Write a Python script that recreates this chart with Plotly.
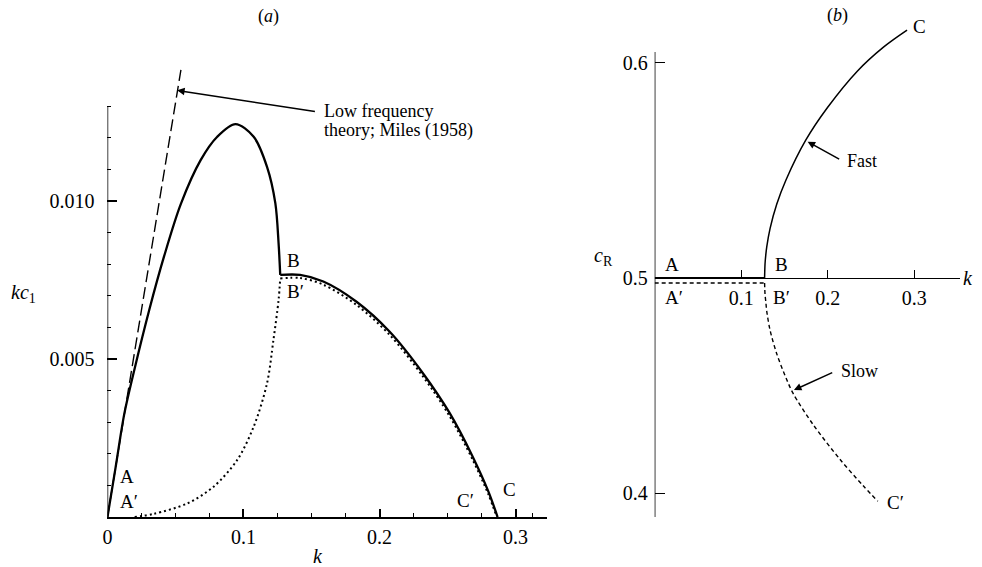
import plotly.graph_objects as go

# ---------------- data: panel (a) ----------------
# solid curve, rising branch A -> peak -> B
solid_rise_k = [0, 0.006, 0.0124, 0.02, 0.0307, 0.0417, 0.0539, 0.0685, 0.0807, 0.0941,
                0.1075, 0.1173, 0.1234, 0.1258, 0.127]
solid_rise_y = [0, 0.00158, 0.00327, 0.0047, 0.00655, 0.00826, 0.0099, 0.01129, 0.01203, 0.01243,
                0.01203, 0.01108, 0.00993, 0.00866, 0.00766]
# solid curve, falling branch B -> C
solid_fall_k = [0.127, 0.1416, 0.1587, 0.1831, 0.2075, 0.2319, 0.2514, 0.2685, 0.28, 0.2868]
solid_fall_y = [0.00766, 0.00766, 0.00745, 0.00681, 0.00586, 0.00455, 0.0033, 0.00191, 0.00081, 0]

# dotted curve, rising branch A' -> B'
dotted_rise_k = [0.02, 0.034, 0.0587, 0.078, 0.0953, 0.1075, 0.1173, 0.122, 0.1258, 0.127]
dotted_rise_y = [0, 0.0001, 0.00043, 0.00096, 0.0018, 0.00286, 0.00423, 0.0056, 0.00687, 0.00755]
# dotted curve, falling branch B' -> C'
dotted_fall_k = [0.127, 0.1416, 0.1587, 0.1831, 0.2075, 0.2319, 0.2514, 0.2685, 0.28, 0.2862]
dotted_fall_y = [0.00755, 0.00756, 0.00735, 0.00671, 0.00576, 0.00445, 0.0032, 0.00181, 0.00072, 0]

lowfreq_k = [0, 0.054]
lowfreq_y = [0, 0.01415]

a_xticks = [0, 0.1, 0.2, 0.3]
a_xticktext = ["0", "0.1", "0.2", "0.3"]
a_xminor = [0.025, 0.05, 0.075, 0.125, 0.15, 0.175, 0.225, 0.25, 0.275, 0.3125]
a_yticks = [0.005, 0.010]
a_yticktext = ["0.005", "0.010"]
a_yminor = [0.001, 0.002, 0.003, 0.004, 0.006, 0.007, 0.008, 0.009, 0.011, 0.012, 0.013]

# ---------------- data: panel (b) ----------------
solid_b_k = [0, 0.127]
solid_b_c = [0.5, 0.5]

fast_k = [0.127, 0.1275, 0.1285, 0.1295, 0.1333, 0.141, 0.1517, 0.1747, 0.1997, 0.2341, 0.2647, 0.2916]
fast_c = [0.5, 0.5065, 0.5112, 0.5145, 0.523, 0.5343, 0.5456, 0.5642, 0.5793, 0.5962, 0.6075, 0.6153]

slow_flat_k = [0, 0.127]
slow_flat_c = [0.4977, 0.4977]
slow_k = [0.127, 0.1275, 0.1285, 0.1295, 0.1333, 0.141, 0.1525, 0.1601, 0.1831, 0.2138, 0.2406, 0.2578]
slow_c = [0.4977, 0.4925, 0.4885, 0.4845, 0.4758, 0.4648, 0.4528, 0.4462, 0.4318, 0.4158, 0.4035, 0.3962]

b_xticks = [0.1, 0.2, 0.3]
b_xticktext = ["0.1", "0.2", "0.3"]
b_yticks = [0.4, 0.5, 0.6]
b_yticktext = ["0.4", "0.5", "0.6"]

# ---------------- layout helpers ----------------
W, H = 982, 567
FONT = "Liberation Serif"


def fx(p):
    return p / W


def fy(p):
    return 1 - p / H


fig = go.Figure()


def line(xs, ys, xa, ya, width, dash=None, spline=True):
    fig.add_trace(go.Scatter(x=xs, y=ys, mode="lines", xaxis=xa, yaxis=ya,
                             line=dict(color="black", width=width, dash=dash,
                                       shape="spline" if spline else "linear", smoothing=0.9),
                             hoverinfo="skip"))


# panel (a)
line(lowfreq_k, lowfreq_y, "x", "y", 1.4, "12px,5px", spline=False)
line(dotted_rise_k, dotted_rise_y, "x", "y", 2, "2px,3px")
line(dotted_fall_k, dotted_fall_y, "x", "y", 2, "2px,3px")
line(solid_rise_k, solid_rise_y, "x", "y", 2.3)
line(solid_fall_k, solid_fall_y, "x", "y", 2.3)

# panel (b)
line(slow_flat_k, slow_flat_c, "x2", "y2", 1.4, "4px,3px", spline=False)
line(slow_k, slow_c, "x2", "y2", 1.4, "4px,3px")
line(solid_b_k, solid_b_c, "x2", "y2", 2.2, spline=False)
line(fast_k, fast_c, "x2", "y2", 1.5)

a_xdom = [fx(103), fx(545)]
a_ydom = [fy(517), fy(60)]
b_xdom = [fx(653), fx(960)]
b_ydom = [fy(517), fy(25)]

tickfont = dict(family=FONT, size=20, color="black")

fig.update_layout(
    width=W, height=H,
    margin=dict(l=0, r=0, t=0, b=0),
    paper_bgcolor="white", plot_bgcolor="white",
    showlegend=False,
    font=dict(family=FONT, size=18, color="black"),
    xaxis=dict(domain=a_xdom, range=[0, 0.3233], anchor="y", showline=True, linecolor="black", linewidth=1.5,
               showgrid=False, zeroline=False, ticks="inside", ticklen=8, tickwidth=1.5, tickcolor="black",
               tickmode="array", tickvals=a_xticks, ticktext=a_xticktext, tickfont=tickfont,
               ticklabelstandoff=1,
               minor=dict(tickmode="array", tickvals=a_xminor, ticks="inside", ticklen=4, tickwidth=1,
                          tickcolor="black", showgrid=False)),
    yaxis=dict(domain=a_ydom, range=[0, 0.01446], anchor="x", showline=False,
               showgrid=False, zeroline=False, ticks="inside", ticklen=10, tickwidth=1.5, tickcolor="black",
               tickmode="array", tickvals=a_yticks, ticktext=a_yticktext, tickfont=tickfont,
               ticklabelstandoff=12,
               minor=dict(tickmode="array", tickvals=a_yminor, ticks="inside", ticklen=4, tickwidth=1,
                          tickcolor="black", showgrid=False)),
    xaxis2=dict(domain=b_xdom, range=[0, 0.3529], anchor="free", position=fy(278), showline=True,
                linecolor="black", linewidth=1.3, showgrid=False, zeroline=False, ticks="inside",
                ticklen=8, tickwidth=1.3, tickcolor="black", tickmode="array", tickvals=b_xticks,
                ticktext=b_xticktext, tickfont=tickfont, ticklabelstandoff=2),
    yaxis2=dict(domain=b_ydom, range=[0.38884, 0.61767], anchor="x2", showline=False,
                showgrid=False, zeroline=False, ticks="inside", ticklen=10, tickwidth=1.3, tickcolor="black",
                tickmode="array", tickvals=b_yticks, ticktext=b_yticktext, tickfont=tickfont,
                ticklabelstandoff=6),
)

# axis lines that stop short of the plotting range
fig.add_shape(type="line", xref="x", yref="y", x0=0, x1=0, y0=0, y1=0.013,
              line=dict(color="black", width=1.5))
fig.add_shape(type="line", xref="x2", yref="y2", x0=0, x1=0, y0=0.38884, y1=0.6051,
              line=dict(color="black", width=1.5))

annotations = []


def txt(text, x, y, size=18, xanchor="center"):
    annotations.append(dict(text=text, x=fx(x), y=fy(y), xref="paper", yref="paper", showarrow=False,
                            xanchor=xanchor, yanchor="middle", font=dict(family=FONT, size=size, color="black")))


txt("(<i>a</i>)", 265, 16, 18)
txt("(<i>b</i>)", 837, 15, 18)
txt("Low frequency", 319, 111, 18, "left")
txt("theory; Miles (1958)", 319, 130, 18, "left")
txt("<i>kc</i><sub>1</sub>", 19, 293, 20)
txt("<i>k</i>", 315, 556, 20)
txt("A", 123, 476, 19)
txt("A′", 125, 501, 19)
txt("B", 290, 261, 19)
txt("B′", 292, 291, 19)
txt("C′", 463, 500, 19)
txt("C", 507, 489, 19)

txt("<i>c</i><sub>R</sub>", 602, 257, 20)
txt("<i>k</i>", 968, 278, 20)
txt("A", 670, 264, 19)
txt("A′", 672, 297, 19)
txt("B", 780, 264, 19)
txt("B′", 780, 297, 19)
txt("C", 919, 26, 19)
txt("C′", 895, 502, 19)
txt("Fast", 844, 161, 18, "left")
txt("Slow", 838, 371, 18, "left")

# arrows
arrow = dict(text="", showarrow=True, arrowhead=2, arrowsize=1, arrowwidth=1.5, arrowcolor="black")
annotations.append(dict(x=0.0512, y=0.0135, xref="x", yref="y", ax=0.1536, ay=0.01282, axref="x", ayref="y", **arrow))
annotations.append(dict(x=0.1767, y=0.5634, xref="x2", yref="y2", ax=0.2149, ay=0.5549, axref="x2", ayref="y2", **arrow))
annotations.append(dict(x=0.1609, y=0.4479, xref="x2", yref="y2", ax=0.2069, ay=0.4563, axref="x2", ayref="y2", **arrow))

fig.update_layout(annotations=annotations)

fig.write_html("out.html")
